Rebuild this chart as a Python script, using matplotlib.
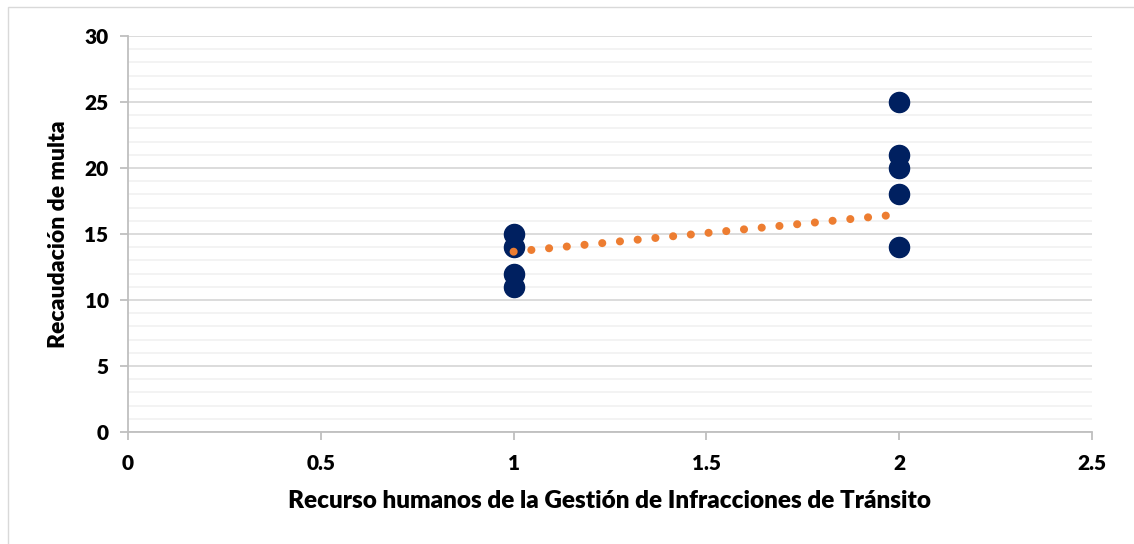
import matplotlib
matplotlib.use("Agg")
import matplotlib.pyplot as plt
from matplotlib.patches import Rectangle
from matplotlib.ticker import MultipleLocator

# Data
x_group1 = [1, 1, 1, 1]
y_group1 = [15, 14, 12, 11]
x_group2 = [2, 2, 2, 2, 2]
y_group2 = [25, 21, 20, 18, 14]
trend_x = [1.0, 2.0]
trend_y = [13.66, 16.49]

x_ticks = [0, 0.5, 1, 1.5, 2, 2.5]
x_tick_labels = ["0", "0.5", "1", "1.5", "2", "2.5"]
y_ticks = [0, 5, 10, 15, 20, 25, 30]

xlabel = "Recurso humanos de la Gestión de Infracciones de Tránsito"
ylabel = "Recaudación de multa"

plt.rcParams['font.family'] = ['Lato', 'DejaVu Sans']

fig = plt.figure(figsize=(11.34, 5.44), dpi=100)
fig.patch.set_facecolor("white")
# chart border (left/top visible)
fig.patches.append(Rectangle((8/1134, -0.01), 1.1, (544-7)/544 + 0.01,
                             transform=fig.transFigure, fill=False,
                             edgecolor="#d9d9d9", linewidth=1.0))

ax = fig.add_axes([128/1134, (544-432)/544, (1092-128)/1134, (432-36)/544])
ax.set_xlim(0, 2.5)
ax.set_ylim(0, 30)

ax.yaxis.set_minor_locator(MultipleLocator(1))
ax.set_yticks(y_ticks)
ax.set_xticks(x_ticks)
ax.set_xticklabels(x_tick_labels)

ax.grid(which="major", axis="y", color="#d9d9d9", linewidth=1.3, zorder=0)
ax.grid(which="minor", axis="y", color="#f2f2f2", linewidth=1.3, zorder=0)
ax.set_axisbelow(True)

for s in ["top", "right"]:
    ax.spines[s].set_visible(False)
for s in ["left", "bottom"]:
    ax.spines[s].set_color("#bfbfbf")
    ax.spines[s].set_linewidth(1.3)

ax.tick_params(axis="both", which="major", direction="out", length=6,
               color="#bfbfbf", width=1.3, labelsize=15)
ax.tick_params(axis="y", which="minor", length=0)
ax.tick_params(axis="x", pad=10)
ax.tick_params(axis="y", pad=8)
for lab in ax.get_xticklabels() + ax.get_yticklabels():
    lab.set_fontweight("heavy")

ax.scatter(x_group1, y_group1, s=210, color="#002060", zorder=3, clip_on=False)
ax.scatter(x_group2, y_group2, s=210, color="#002060", zorder=3, clip_on=False)

ax.plot(trend_x, trend_y, color="#ED7D31", linewidth=5.8,
        linestyle=(0, (0.01, 2.2)), dash_capstyle="round", zorder=4)

ax.set_xlabel(xlabel, fontsize=17.5, fontweight="heavy", labelpad=12)
ax.set_ylabel(ylabel, fontsize=16.5, fontweight="heavy", labelpad=11)

fig.savefig("out.png", dpi=100, facecolor="white")
